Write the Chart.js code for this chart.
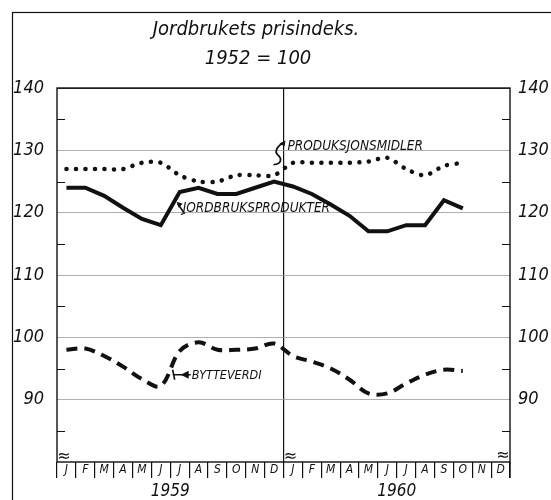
<!DOCTYPE html>
<html>
<head>
<meta charset="utf-8">
<script src="https://cdn.jsdelivr.net/npm/chart.js@4/dist/chart.umd.min.js"></script>
<style>
  html, body { margin: 0; padding: 0; background: #fff; }
  #wrap { width: 551px; height: 500px; }
</style>
</head>
<body>
<div id="wrap"><canvas id="myChart" width="551" height="500"></canvas></div>
<script>
// months for 1959 and 1960
const months = ["J","F","M","A","M","J","J","A","S","O","N","D",
                "J","F","M","A","M","J","J","A","S","O","N","D"];
const years = ["1959", "1960"];
const yTicks = [90, 100, 110, 120, 130, 140];

// index values, 1952 = 100
const jordbruksprodukter = [124, 124, 122.7, 120.8, 119, 118, 123.3, 124, 123, 123, 124, 125,
                            124.2, 123, 121.3, 119.5, 117, 117, 118, 118, 122, 120.7, null, null];
const produksjonsmidler  = [127, 127, 127, 127, 128, 128, 126, 125, 125, 126, 126, 126,
                            128, 128, 128, 128, 128.2, 128.8, 127, 126, 127.5, 128, null, null];
const bytteverdi         = [98, 98.2, 97, 95.3, 93.3, 92.2, 97.8, 99.2, 98, 98, 98.2, 99,
                            97, 96.1, 95, 93.2, 91, 91, 92.6, 94, 94.8, 94.6, null, null];

const fontFam = "'Liberation Sans Narrow', 'DejaVu Sans Condensed', 'Liberation Sans', sans-serif";
const ink = "#111";

const extras = {
  id: "extras",
  afterDraw(chart) {
    const c = chart.ctx;
    const a = chart.chartArea;
    const xs = chart.scales.x;
    const ys = chart.scales.y;
    c.save();
    c.strokeStyle = ink;
    c.fillStyle = ink;

    // outer frame
    c.lineWidth = 1.2;
    c.strokeRect(12.5, 12.5, 600, 600);

    // title
    c.textAlign = "center";
    c.textBaseline = "middle";
    c.font = "italic 20px " + fontFam;
    c.fillText("Jordbrukets prisindeks.", 256, 30);
    c.fillText("1952 = 100", 258, 59);

    // plot frame
    c.lineWidth = 1.4;
    c.strokeRect(a.left, a.top, a.right - a.left, a.bottom - a.top);
    c.beginPath();
    c.moveTo(a.right, a.bottom);
    c.lineTo(a.right, a.bottom + 16);
    c.stroke();

    // inner minor ticks every 5
    c.lineWidth = 1;
    for (let v = 85; v < 140; v += 10) {
      const y = Math.round(ys.getPixelForValue(v)) + 0.5;
      c.beginPath();
      c.moveTo(a.left, y); c.lineTo(a.left + 8, y);
      c.moveTo(a.right, y); c.lineTo(a.right - 8, y);
      c.stroke();
    }

    // axis break marks
    c.font = "16px 'DejaVu Sans', sans-serif";
    const mid = (xs.getPixelForValue(11) + xs.getPixelForValue(12)) / 2;
    c.fillText("\u2248", a.left + 7, a.bottom - 5);
    c.fillText("\u2248", mid + 7, a.bottom - 5);
    c.fillText("\u2248", a.right - 7, a.bottom - 6);

    // year labels
    c.font = "italic 17px " + fontFam;
    c.textBaseline = "alphabetic";
    c.fillText(years[0], (xs.getPixelForValue(5) + xs.getPixelForValue(6)) / 2, 496);
    c.fillText(years[1], (xs.getPixelForValue(17) + xs.getPixelForValue(18)) / 2, 496);

    // series labels
    c.textAlign = "left";
    c.textBaseline = "middle";

    // JORDBRUKSPRODUKTER
    c.font = "italic 13.5px " + fontFam;
    let x0 = xs.getPixelForValue(6), y0 = ys.getPixelForValue(120.8);
    c.fillText("JORDBRUKSPRODUKTER", x0 + 3, y0 + 1);
    c.lineWidth = 1.6;
    c.beginPath();
    c.moveTo(x0 + 5, y0 + 6); c.lineTo(x0 - 2, y0 - 4); c.stroke();
    c.beginPath();
    c.moveTo(x0 - 3, y0 - 6); c.lineTo(x0 + 3, y0 - 4); c.lineTo(x0 - 1, y0); c.closePath(); c.fill();

    // BYTTEVERDI
    c.font = "italic 12.5px " + fontFam;
    x0 = xs.getPixelForValue(6); y0 = ys.getPixelForValue(94);
    c.fillText("BYTTEVERDI", x0 + 12, y0 + 1);
    c.beginPath();
    c.moveTo(x0 + 11, y0); c.lineTo(x0 - 7, y0);
    c.moveTo(x0 - 7, y0 - 5); c.lineTo(x0 - 5, y0 + 5);
    c.stroke();
    c.beginPath();
    c.moveTo(x0 + 1, y0); c.lineTo(x0 + 9, y0 - 4); c.lineTo(x0 + 9, y0 + 4); c.closePath(); c.fill();

    // PRODUKSJONSMIDLER
    c.font = "italic 13.5px " + fontFam;
    x0 = mid; y0 = ys.getPixelForValue(130.6);
    c.fillText("PRODUKSJONSMIDLER", x0 + 4, y0);
    c.lineWidth = 1.8;
    c.beginPath();
    c.moveTo(x0 - 10, y0 + 18);
    c.bezierCurveTo(x0 - 2, y0 + 18, x0 - 1, y0 + 12, x0 - 6, y0 + 8);
    c.bezierCurveTo(x0 - 10, y0 + 4, x0 - 4, y0 - 2, x0, y0 - 4);
    c.stroke();
    c.beginPath();
    c.moveTo(x0 + 2, y0 - 6); c.lineTo(x0 - 4, y0 - 3); c.lineTo(x0 + 1, y0); c.closePath(); c.fill();

    c.restore();
  }
};

const ctx = document.getElementById("myChart").getContext("2d");
const chart = new Chart(ctx, {
  type: "line",
  data: {
    labels: months,
    datasets: [
      {
        label: "Produksjonsmidler",
        data: produksjonsmidler,
        borderColor: ink,
        borderWidth: 4.5,
        borderDash: [0.1, 9.4],
        borderCapStyle: "round",
        pointRadius: 0,
        tension: 0.3,
        yAxisID: "y"
      },
      {
        label: "Jordbruksprodukter",
        data: jordbruksprodukter,
        borderColor: ink,
        borderWidth: 4,
        pointRadius: 0,
        tension: 0,
        yAxisID: "y"
      },
      {
        label: "Bytteverdi",
        data: bytteverdi,
        borderColor: ink,
        borderWidth: 4,
        borderDash: [11, 7],
        pointRadius: 0,
        tension: 0.35,
        yAxisID: "y"
      }
    ]
  },
  options: {
    responsive: false,
    animation: false,
    layout: { padding: { left: 12, right: 0, top: 88, bottom: 0 } },
    plugins: {
      legend: { display: false },
      tooltip: { enabled: false },
      title: { display: false }
    },
    scales: {
      x: {
        type: "category",
        offset: true,
        grid: {
          offset: true,
          color: (c) => (c.index === 12 ? ink : "transparent"),
          tickColor: ink,
          tickLength: 16,
          lineWidth: 1.2
        },
        border: { display: false },
        ticks: {
          autoSkip: false,
          maxRotation: 0,
          padding: -15,
          color: ink,
          font: { family: fontFam, size: 12, style: "italic" }
        },
        afterFit: (s) => { s.height = 38; }
      },
      y: {
        position: "left",
        min: 80,
        max: 140,
        afterBuildTicks: (s) => { s.ticks = yTicks.map((v) => ({ value: v })); },
        grid: {
          color: (c) => (c.tick && c.tick.value === 140 ? ink : "#9a9a9a"),
          lineWidth: 0.8,
          drawTicks: false
        },
        border: { display: false },
        ticks: {
          padding: 13,
          color: ink,
          font: { family: fontFam, size: 18, style: "italic" }
        },
        afterFit: (s) => { s.width = 45; }
      },
      y2: {
        position: "right",
        min: 80,
        max: 140,
        afterBuildTicks: (s) => { s.ticks = yTicks.map((v) => ({ value: v })); },
        grid: { drawOnChartArea: false, drawTicks: false },
        border: { display: false },
        ticks: {
          padding: 8,
          color: ink,
          font: { family: fontFam, size: 18, style: "italic" }
        },
        afterFit: (s) => { s.width = 41; }
      }
    }
  },
  plugins: [extras]
});
</script>
</body>
</html>
